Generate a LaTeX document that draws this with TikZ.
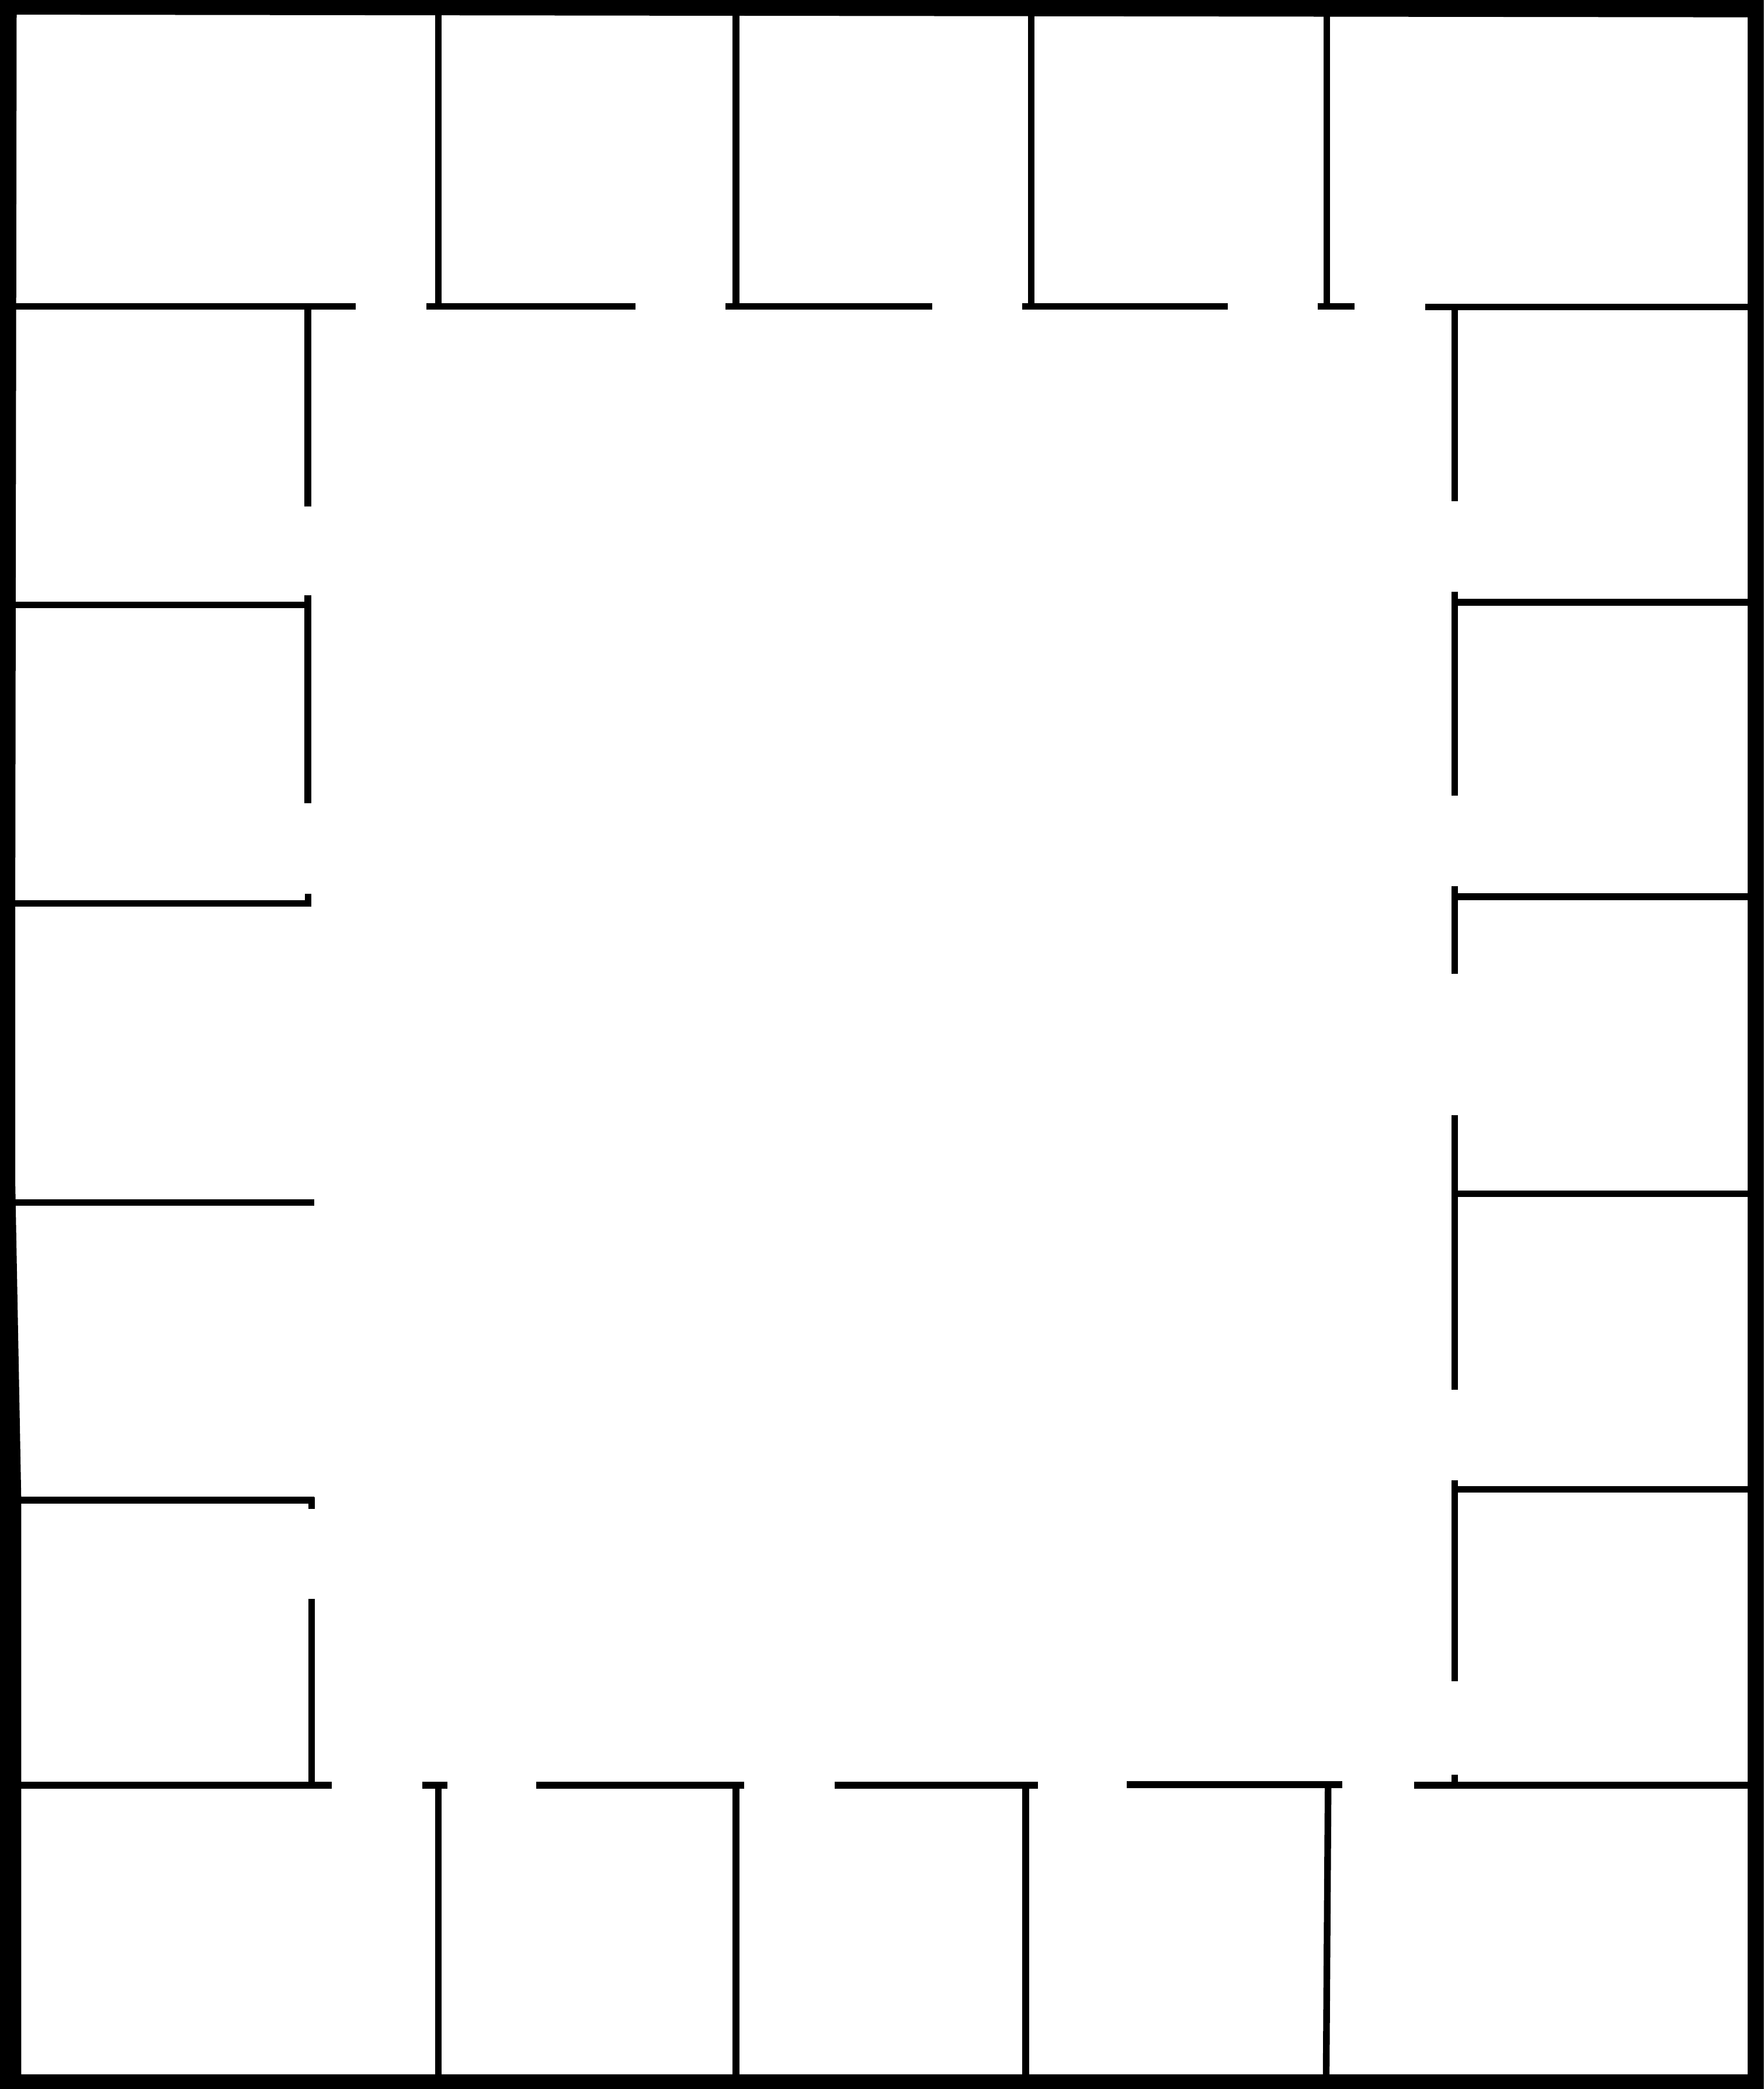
\documentclass[tikz,border=0pt]{standalone}
\begin{document}
\begin{tikzpicture}[x=1pt,y=-1pt,
  wall/.style={draw=black,line width=5pt,line cap=butt}]
\useasboundingbox (0,0) rectangle (1324,1568);
% outer thick frame
\fill[black,even odd rule] (0,0) rectangle (1324,1568)
  (12.5,11) -- (1312,13) -- (1312,1557) -- (16,1557) -- (16,1128)
  -- (11.5,890) -- (11.5,650) -- cycle;
% top row of rooms
\draw[wall] (329,5) -- (329,232);
\draw[wall] (552.5,5) -- (552.5,232);
\draw[wall] (774,5) -- (774,232);
\draw[wall] (996,5) -- (996,232);
\draw[wall] (5,230) -- (267,230);
\draw[wall] (320,230) -- (477,230);
\draw[wall] (544.5,230) -- (700,230);
\draw[wall] (767.5,230) -- (921.5,230);
\draw[wall] (989,230) -- (1017,230);
\draw[wall] (1070,230.5) -- (1318,230.5);
% left column
\draw[wall] (231,228) -- (231,380);
\draw[wall] (5,454) -- (233,454);
\draw[wall] (231,447) -- (231,603);
\draw[wall] (5,678) -- (233.7,678);
\draw[wall] (231.4,671) -- (231.4,680);
\draw[wall] (5,902.5) -- (236,902.5);
\draw[wall] (5,1126) -- (236,1126);
\draw[wall] (233.9,1124) -- (233.9,1132.4);
\draw[wall] (234,1200) -- (234,1342);
% right column
\draw[wall] (1092,228) -- (1092,376);
\draw[wall] (1092,444) -- (1092,597);
\draw[wall] (1092,452) -- (1318,452);
\draw[wall] (1092,665) -- (1092,731);
\draw[wall] (1092,673) -- (1318,673);
\draw[wall] (1092,837) -- (1092,1043);
\draw[wall] (1092,896) -- (1318,896);
\draw[wall] (1092,1111) -- (1092,1262);
\draw[wall] (1092,1118) -- (1318,1118);
\draw[wall] (1092,1332) -- (1092,1340);
% bottom row of rooms
\draw[wall] (5,1340) -- (249,1340);
\draw[wall] (317,1340) -- (336,1340);
\draw[wall] (402.7,1340) -- (558.8,1340);
\draw[wall] (626.7,1340) -- (779,1340);
\draw[wall] (846,1339.5) -- (1007.7,1339.5);
\draw[wall] (1061.6,1340) -- (1318,1340);
\draw[wall] (329,1338) -- (329,1562);
\draw[wall] (552.5,1338) -- (552.5,1562);
\draw[wall] (770,1338) -- (770,1562);
\draw[wall] (997,1338) -- (995.5,1562);
\end{tikzpicture}
\end{document}
